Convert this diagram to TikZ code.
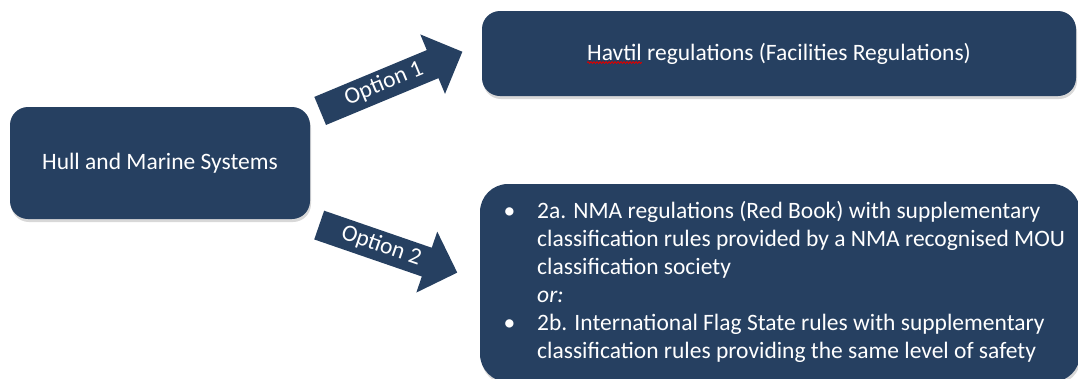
\documentclass[tikz,border=0pt]{standalone}
\usepackage{fontspec}
\setmainfont{Carlito}
\usetikzlibrary{positioning, shapes.arrows, shadows, decorations.pathmorphing}
\definecolor{navy}{RGB}{38,64,97}
\newcommand{\bodyfont}{\fontsize{23.5}{28}\selectfont}
\newlength{\fullw}
\newlength{\havtilw}
\tikzset{
    x=1pt, y=1pt, % one unit is one pixel of the reference
    every node/.style={font=\bodyfont, text=white},
    box/.style={fill=navy, rounded corners=18pt, drop shadow={shadow xshift=1pt, shadow yshift=-3pt, opacity=0.3}}, % the three blocks
    option/.style={single arrow, fill=navy, single arrow head extend=17pt, anchor=tail, inner xsep=6pt, text height=16pt, text depth=5pt, inner ysep=4.5pt}, % the two block arrows
    spelling/.style={red!85!black, line width=0.9pt, decorate, decoration={snake, amplitude=0.9pt, segment length=3pt}}, % wavy underline
}

\begin{document}
\settowidth{\fullw}{\bodyfont Havtil regulations (Facilities Regulations)}
\settowidth{\havtilw}{\bodyfont Havtil}
\begin{tikzpicture}
\useasboundingbox[fill=white] (0,0) rectangle (1078,-378);
\node[box, minimum width=300, minimum height=112] (hull) at (160,-163) {Hull and Marine Systems};
\node[box, minimum width=594, minimum height=85] (havtil) at (779,-53.5)
    {Havtil regulations (Facilities Regulations)};
\node[box, rounded corners=28pt, minimum width=600, minimum height=198] (nma) at (780,-283) {};
\node[anchor=west] (nmatext) at (500,-283)
    {\begin{tabular}{@{}l@{\hspace{22pt}}l@{}}
     \textbullet & 2a. NMA regulations (Red Book) with supplementary\\
                 & classification rules provided by a NMA recognised MOU\\
                 & classification society\\
                 & \textit{or:}\\
     \textbullet & 2b. International Flag State rules with supplementary\\
                 & classification rules providing the same level of safety
     \end{tabular}};
\node[option, rotate=22.6, minimum height=154] (opt1) at (320,-111) {Option 1};
\node[option, rotate=-19, minimum height=146] (opt2) at (319,-225) {Option 2};
% spell check mark under Havtil
\coordinate[xshift=-0.5\fullw, yshift=-2.5pt] (w) at (havtil.base);
\draw[spelling] (w) -- ++(\havtilw,0);
\end{tikzpicture}
\end{document}
